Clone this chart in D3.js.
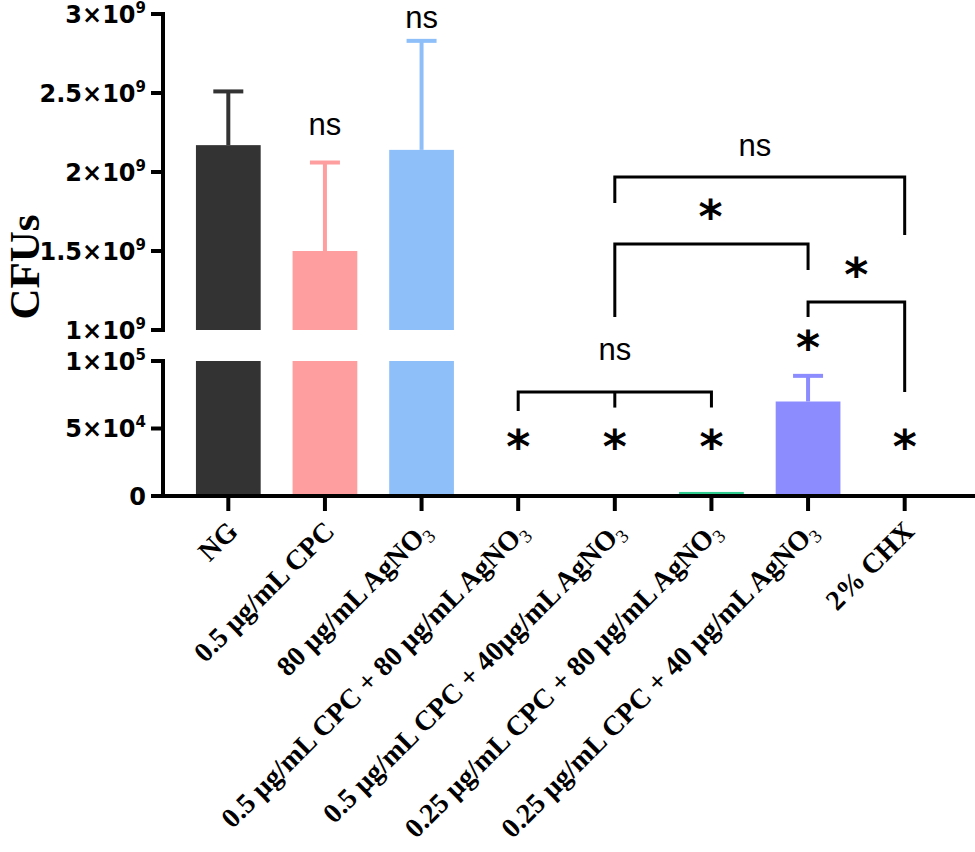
<!DOCTYPE html>
<html>
<head>
<meta charset="utf-8">
<script src="https://cdn.jsdelivr.net/npm/d3@7"></script>
<style>
  html, body { margin: 0; padding: 0; background: #fff; }
  svg { display: block; }
</style>
</head>
<body>
<svg id="chart" width="975" height="852"></svg>
<script>
// ---------- data ----------
const categories = [
  "NG",
  "0.5 µg/mL CPC",
  "80 µg/mL AgNO3",
  "0.5 µg/mL CPC + 80 µg/mL AgNO3",
  "0.5 µg/mL CPC + 40µg/mL AgNO3",
  "0.25 µg/mL CPC + 80 µg/mL AgNO3",
  "0.25 µg/mL CPC + 40 µg/mL AgNO3",
  "2% CHX"
];
const means  = [2.17e9, 1.50e9, 2.14e9, 0, 0, 3000, 70000, 0];
const errors = [0.34e9, 0.56e9, 0.69e9, 0, 0, 0, 19000, 0];
const colors = ["#333333", "#FF9E9E", "#8FBFF8", "#ffffff", "#ffffff", "#2ECC8E", "#8C8CFF", "#ffffff"];

const topTicks = [1e9, 1.5e9, 2e9, 2.5e9, 3e9];
const topTickLabels = [["1×10", "9"], ["1.5×10", "9"], ["2×10", "9"], ["2.5×10", "9"], ["3×10", "9"]];
const botTicks = [0, 5e4, 1e5];
const botTickLabels = [["0", ""], ["5×10", "4"], ["1×10", "5"]];

// significance labels: category index, text, segment, value position
const sigLabels = [
  { cat: 1, text: "ns", seg: "top", v: 2.285e9 },
  { cat: 2, text: "ns", seg: "top", v: 2.962e9 },
  { cat: 3, text: "*",  seg: "bot", v: 0.363e5 },
  { cat: 4, text: "*",  seg: "bot", v: 0.363e5 },
  { cat: 5, text: "*",  seg: "bot", v: 0.363e5 },
  { cat: 7, text: "*",  seg: "bot", v: 0.363e5 },
  { cat: 6, text: "*",  seg: "bot", v: 1.096e5 },
  { cat: 4, text: "ns", seg: "bot", v: 1.067e5 }
];
// brackets: from/to category, bar height and leg ends, optional middle leg
const brackets = [
  { a: 3, b: 5, mid: 4, h: ["bot", 0.77e5], la: ["bot", 0.63e5], lb: ["bot", 0.655e5], lm: ["bot", 0.655e5], text: "ns", tpos: null },
  { a: 4, b: 7, h: ["top", 1.968e9], la: ["top", 1.804e9], lb: ["top", 1.601e9], text: "ns", tpos: ["top", 2.152e9], tcat: 5.45 },
  { a: 4, b: 6, h: ["top", 1.544e9], la: ["top", 1.082e9], lb: ["top", 1.380e9], text: "*", tpos: ["top", 1.715e9], tcat: 4.99 },
  { a: 6, b: 7, h: ["top", 1.177e9], la: ["top", 1.082e9], lb: ["bot", 0.77e5], text: "*", tpos: ["top", 1.348e9], tcat: 6.5 }
];

// ---------- layout ----------
const svg = d3.select("#chart");
const axisX = 163;
const baseY = 496;

const x = d3.scaleBand().domain(d3.range(categories.length))
  .range([180, 953]).paddingInner(0.33).paddingOuter(0.165);
const cx = i => x(i) + x.bandwidth() / 2;
const cxf = f => { const i = Math.floor(f); return cx(i) + (f - i) * x.step(); };

const yTop = d3.scaleLinear().domain([1e9, 3e9]).range([330, 14]);
const yBot = d3.scaleLinear().domain([0, 1e5]).range([496, 361]);
const Y = (seg, v) => seg === "top" ? yTop(v) : yBot(v);

// ---------- bars ----------
const g = svg.append("g");
means.forEach((m, i) => {
  if (m <= 0) return;
  if (m > 1e5) {
    g.append("rect").attr("x", x(i)).attr("width", x.bandwidth())
      .attr("y", yBot(1e5)).attr("height", yBot(0) - yBot(1e5)).attr("fill", colors[i]);
    g.append("rect").attr("x", x(i)).attr("width", x.bandwidth())
      .attr("y", yTop(m)).attr("height", yTop(1e9) - yTop(m)).attr("fill", colors[i]);
  } else {
    g.append("rect").attr("x", x(i)).attr("width", x.bandwidth())
      .attr("y", yBot(m)).attr("height", yBot(0) - yBot(m)).attr("fill", colors[i]);
  }
  if (errors[i] > 0) {
    const ys = m > 1e5 ? yTop : yBot;
    g.append("line").attr("x1", cx(i)).attr("x2", cx(i))
      .attr("y1", ys(m)).attr("y2", ys(m + errors[i]))
      .attr("stroke", colors[i]).attr("stroke-width", 4);
    g.append("line").attr("x1", cx(i) - 15).attr("x2", cx(i) + 15)
      .attr("y1", ys(m + errors[i])).attr("y2", ys(m + errors[i]))
      .attr("stroke", colors[i]).attr("stroke-width", 4);
  }
});

// ---------- axes ----------
const ax = svg.append("g").attr("stroke", "#000").attr("stroke-width", 4);
ax.append("line").attr("x1", axisX).attr("x2", axisX).attr("y1", yTop(3e9) - 2).attr("y2", yTop(1e9) + 2);
ax.append("line").attr("x1", axisX).attr("x2", axisX).attr("y1", yBot(1e5) - 2).attr("y2", baseY);
topTicks.forEach(t => ax.append("line").attr("x1", 151).attr("x2", axisX).attr("y1", yTop(t)).attr("y2", yTop(t)));
botTicks.forEach(t => ax.append("line").attr("x1", 151).attr("x2", axisX).attr("y1", yBot(t)).attr("y2", yBot(t)));
ax.append("line").attr("x1", 151).attr("x2", 975).attr("y1", baseY).attr("y2", baseY);
categories.forEach((c, i) => ax.append("line").attr("x1", cx(i)).attr("x2", cx(i)).attr("y1", baseY).attr("y2", baseY + 15));

function tickLabel(yv, parts) {
  const t = svg.append("text").attr("x", 146).attr("y", yv + 8.5)
    .attr("text-anchor", "end").attr("font-family", "DejaVu Sans").attr("font-weight", "bold")
    .attr("font-size", 24).attr("fill", "#000");
  t.append("tspan").text(parts[0]);
  if (parts[1]) t.append("tspan").attr("font-size", 15).attr("dy", -10).text(parts[1]);
}
topTicks.forEach((t, i) => tickLabel(yTop(t), topTickLabels[i]));
botTicks.forEach((t, i) => tickLabel(yBot(t), botTickLabels[i]));

// y title
svg.append("text").attr("transform", "translate(39,267) rotate(-90)")
  .attr("text-anchor", "middle").attr("font-family", "Liberation Serif").attr("font-weight", "bold")
  .attr("font-size", 43).text("CFUs");

// x labels
categories.forEach((c, i) => {
  const t = svg.append("text")
    .attr("transform", `translate(${cx(i) + 11},${baseY + 37}) rotate(-45)`)
    .attr("text-anchor", "end").attr("font-family", "Liberation Serif").attr("font-weight", "bold")
    .attr("font-size", 28).attr("fill", "#000");
  const m = c.match(/^(.*AgNO)3$/);
  if (m) {
    t.append("tspan").text(m[1]);
    t.append("tspan").attr("font-size", 19).attr("font-weight", "normal").attr("dy", 6).text("3");
  } else {
    t.text(c);
  }
});

// ---------- significance ----------
function sigText(xp, yp, text) {
  if (text === "*") {
    const t = svg.append("text").attr("x", xp).attr("y", yp).attr("text-anchor", "middle")
      .attr("font-family", "DejaVu Sans").attr("font-weight", "bold").attr("font-size", 46).text("*");
    const b = t.node().getBBox();
    t.attr("y", yp + (yp - (b.y + b.height / 2)));
  } else {
    svg.append("text").attr("x", xp).attr("y", yp + 8).attr("text-anchor", "middle")
      .attr("font-family", "Liberation Sans").attr("font-size", 31).text(text);
  }
}
sigLabels.forEach(s => sigText(cx(s.cat), Y(s.seg, s.v), s.text));

const bg = svg.append("g").attr("stroke", "#000").attr("stroke-width", 3).attr("fill", "none");
brackets.forEach(b => {
  const xa = cx(b.a), xb = cx(b.b), yh = Y(...b.h);
  bg.append("path").attr("d",
    `M${xa},${Y(...b.la)}V${yh}H${xb}V${Y(...b.lb)}`);
  if (b.mid !== undefined) {
    bg.append("line").attr("x1", cx(b.mid)).attr("x2", cx(b.mid)).attr("y1", yh).attr("y2", Y(...b.lm));
  }
  if (b.tpos) sigText(cxf(b.tcat), Y(...b.tpos), b.text);
});
</script>
</body>
</html>
